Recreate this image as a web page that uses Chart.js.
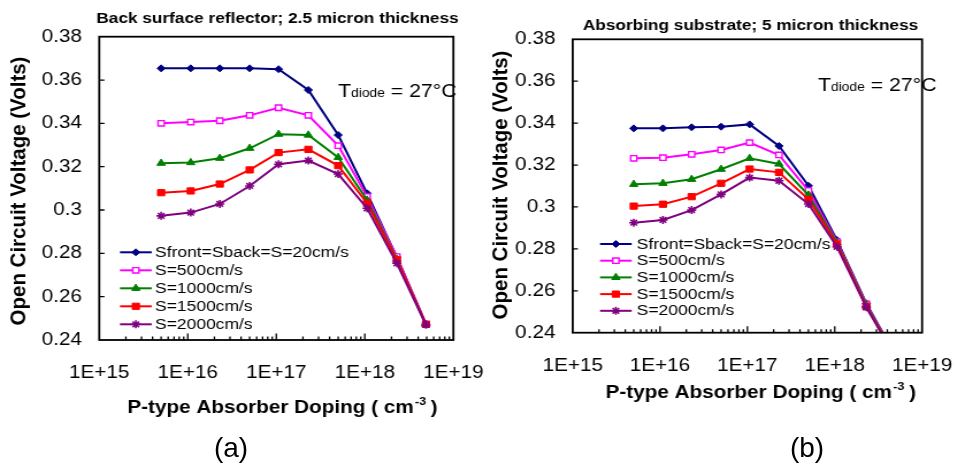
<!DOCTYPE html>
<html>
<head>
<meta charset="utf-8">
<script src="https://cdn.jsdelivr.net/npm/chart.js"></script>
<style>
  html, body { margin: 0; padding: 0; background: #fff; }
  body { width: 979px; height: 466px; position: relative; overflow: hidden; font-family: "Liberation Sans", Arial, sans-serif; }
  canvas { position: absolute; top: 0; transform-origin: 0 0; transform: scaleX(1.15); }
  #chartA { left: 0; }
  #chartB { left: 490px; }
  .panel-label { position: absolute; top: 431px; width: 100px; text-align: center; font-size: 28px; line-height: 34px; color: #000; }
</style>
</head>
<body>
<canvas id="chartA" width="443" height="466"></canvas>
<canvas id="chartB" width="425" height="466"></canvas>
<div class="panel-label" style="left: 181px;">(a)</div>
<div class="panel-label" style="left: 757px;">(b)</div>
<script>
// doping levels (cm^-3) of the simulated points
const doping = [5e15, 1.08e16, 2.3e16, 5e16, 1.06e17, 2.3e17, 5e17, 1.06e18, 2.3e18, 4.9e18];

const seriesLabels = ['Sfront=Sback=S=20cm/s', 'S=500cm/s', 'S=1000cm/s', 'S=1500cm/s', 'S=2000cm/s'];

// (a) back surface reflector, 2.5 micron
const vocA_S20   = [0.3654, 0.3654, 0.3654, 0.3654, 0.3650, 0.3554, 0.3346, 0.3077, 0.2782, 0.2474];
const vocA_S500  = [0.3400, 0.3406, 0.3412, 0.3437, 0.3472, 0.3437, 0.3297, 0.3062, 0.2785, 0.2474];
const vocA_S1000 = [0.3216, 0.3219, 0.3239, 0.3285, 0.3350, 0.3346, 0.3243, 0.3046, 0.2773, 0.2472];
const vocA_S1500 = [0.3080, 0.3088, 0.3120, 0.3185, 0.3265, 0.3280, 0.3205, 0.3031, 0.2770, 0.2472];
const vocA_S2000 = [0.2973, 0.2988, 0.3028, 0.3111, 0.3211, 0.3228, 0.3166, 0.3008, 0.2754, 0.2470];

// (b) absorbing substrate, 5 micron
const vocB_S20   = [0.3375, 0.3375, 0.3380, 0.3383, 0.3394, 0.3291, 0.3101, 0.2842, 0.2540, 0.2295];
const vocB_S500  = [0.3232, 0.3235, 0.3251, 0.3272, 0.3307, 0.3248, 0.3078, 0.2834, 0.2537, 0.2293];
const vocB_S1000 = [0.3108, 0.3113, 0.3132, 0.3180, 0.3232, 0.3205, 0.3057, 0.2829, 0.2532, 0.2290];
const vocB_S1500 = [0.3004, 0.3013, 0.3049, 0.3113, 0.3181, 0.3165, 0.3036, 0.2823, 0.2524, 0.2288];
const vocB_S2000 = [0.2925, 0.2938, 0.2985, 0.3060, 0.3140, 0.3125, 0.3014, 0.2810, 0.2521, 0.2285];

const decades = [1e15, 1e16, 1e17, 1e18, 1e19];
const xTickLabels = ['1E+15', '1E+16', '1E+17', '1E+18', '1E+19'];
const yTickValues = [0.24, 0.26, 0.28, 0.30, 0.32, 0.34, 0.36, 0.38];
const yTickLabels = ['0.24', '0.26', '0.28', '0.3', '0.32', '0.34', '0.36', '0.38'];

const seriesColors = ['#000080', '#ff00ff', '#008000', '#ff0000', '#800080'];
const seriesFills = ['#000080', '#ffffff', '#008000', '#ff0000', '#800080'];
const seriesMarkers = ['rectRot', 'rect', 'triangle', 'rect', 'star'];
const markerRadius = [3.5, 3.8, 4.2, 4.4, 4];
const markerBorder = [1, 1.4, 1, 1, 1.6];

const FONT = '"Liberation Sans", Arial, sans-serif';
Chart.defaults.font.family = FONT;
Chart.defaults.color = '#000';

// 1..9 x 10^n ticks, like an Excel log axis
const xTickValues = [];
decades.forEach((d, i) => {
  if (i === decades.length - 1) { xTickValues.push(d); return; }
  for (let m = 1; m <= 9; m++) xTickValues.push(m * d);
});

function decadeLabel(v) {
  const i = decades.findIndex(d => Math.abs(v / d - 1) < 1e-6);
  return i >= 0 ? xTickLabels[i] : '';
}

const panelDecor = {
  id: 'panelDecor',
  afterDatasetsDraw(chart, args, opts) {
    const ctx = chart.ctx;
    const area = chart.chartArea;
    const xs = chart.scales.x;
    const ys = chart.scales.y;
    ctx.save();

    // inward tick marks
    ctx.strokeStyle = '#000';
    ctx.lineWidth = 1.3;
    ctx.beginPath();
    xs.ticks.forEach(t => {
      if (t.value <= xs.min || t.value >= xs.max) return;
      const px = xs.getPixelForValue(t.value);
      const len = decadeLabel(t.value) ? 6.5 : 3.5;
      ctx.moveTo(px, area.bottom);
      ctx.lineTo(px, area.bottom - len);
    });
    ys.ticks.forEach(t => {
      if (t.value <= ys.min + 1e-9 || t.value >= ys.max - 1e-9) return;
      const py = ys.getPixelForValue(t.value);
      ctx.moveTo(area.left, py);
      ctx.lineTo(area.left + 4.5, py);
    });
    ctx.stroke();

    // frame
    ctx.lineWidth = 1.8;
    ctx.strokeRect(area.left, area.top, area.right - area.left, area.bottom - area.top);

    ctx.fillStyle = '#000';
    ctx.textBaseline = 'alphabetic';

    // chart title
    ctx.font = 'bold 15px ' + FONT;
    ctx.textAlign = 'center';
    ctx.fillText(opts.title, opts.titleX, opts.titleY);

    // x axis title with superscript
    const partA = 'P-type Absorber Doping ( cm';
    const sup = '-3';
    const partB = ' )';
    ctx.font = 'bold 18px ' + FONT;
    const wA = ctx.measureText(partA).width;
    const wB = ctx.measureText(partB).width;
    ctx.font = 'bold 11px ' + FONT;
    const wS = ctx.measureText(sup).width;
    let x0 = opts.xTitleX - (wA + wS + wB) / 2;
    ctx.textAlign = 'left';
    ctx.font = 'bold 18px ' + FONT;
    ctx.fillText(partA, x0, opts.xTitleY);
    ctx.font = 'bold 11px ' + FONT;
    ctx.fillText(sup, x0 + wA + 1, opts.xTitleY - 8);
    ctx.font = 'bold 18px ' + FONT;
    ctx.fillText(partB, x0 + wA + wS, opts.xTitleY);

    // y axis title (stretched along its length like the source figure)
    ctx.save();
    ctx.translate(opts.yTitleX, opts.yTitleY);
    ctx.rotate(-Math.PI / 2);
    ctx.scale(1.17, 1);
    ctx.textAlign = 'center';
    ctx.textBaseline = 'middle';
    ctx.font = 'bold 17.5px ' + FONT;
    ctx.fillText('Open Circuit Voltage (Volts)', 0, 0);
    ctx.restore();

    // T_diode note
    ctx.textAlign = 'left';
    let tx = opts.noteX;
    ctx.font = '18.5px ' + FONT;
    ctx.fillText('T', tx, opts.noteY);
    tx += ctx.measureText('T').width;
    ctx.font = '12px ' + FONT;
    ctx.fillText('diode', tx, opts.noteY);
    tx += ctx.measureText('diode').width;
    ctx.font = '18.5px ' + FONT;
    ctx.fillText(' = 27\u00B0C', tx, opts.noteY);

    // legend
    const lg = opts.legend;
    chart.data.datasets.forEach((ds, i) => {
      const y = lg.y + i * lg.gap;
      ctx.strokeStyle = ds.borderColor;
      ctx.lineWidth = 2;
      ctx.beginPath();
      ctx.moveTo(lg.x0, y);
      ctx.lineTo(lg.x1, y);
      ctx.stroke();
      ctx.fillStyle = ds.pointBackgroundColor;
      ctx.strokeStyle = ds.borderColor;
      ctx.lineWidth = ds.pointBorderWidth;
      Chart.helpers.drawPoint(ctx, {
        pointStyle: ds.pointStyle,
        radius: ds.pointRadius,
        borderWidth: ds.pointBorderWidth,
        rotation: 0
      }, (lg.x0 + lg.x1) / 2, y);
      ctx.fillStyle = '#000';
      ctx.font = '15.2px ' + FONT;
      ctx.textBaseline = 'middle';
      ctx.fillText(ds.label, lg.tx, y + 0.5);
    });

    ctx.restore();
  }
};

function buildChart(canvasId, series, panel) {
  const datasets = series.map((values, i) => ({
    label: seriesLabels[i],
    data: values.map((v, k) => ({ x: doping[k], y: v })),
    borderColor: seriesColors[i],
    backgroundColor: seriesFills[i],
    pointBackgroundColor: seriesFills[i],
    pointBorderColor: seriesColors[i],
    pointStyle: seriesMarkers[i],
    pointRadius: markerRadius[i],
    pointBorderWidth: markerBorder[i],
    borderWidth: 2,
    tension: 0,
    fill: false,
    order: series.length - i
  }));

  return new Chart(document.getElementById(canvasId), {
    type: 'line',
    data: { datasets: datasets },
    options: {
      responsive: false,
      animation: false,
      devicePixelRatio: 1,
      events: [],
      layout: { padding: panel.padding },
      scales: {
        x: {
          type: 'logarithmic',
          min: 1e15,
          max: 1e19,
          afterBuildTicks: s => { s.ticks = xTickValues.map(v => ({ value: v })); },
          afterFit: s => { s.height = 60; },
          grid: { display: false, drawTicks: false },
          border: { display: false },
          ticks: {
            autoSkip: false, maxRotation: 0, minRotation: 0, padding: panel.xLabelPad,
            color: '#000', font: { size: 18 },
            callback: v => decadeLabel(v)
          }
        },
        y: {
          min: 0.24,
          max: 0.38,
          afterBuildTicks: s => { s.ticks = yTickValues.map(v => ({ value: v })); },
          afterFit: s => { s.width = panel.yAxisWidth; },
          grid: { display: false, drawTicks: false },
          border: { display: false },
          ticks: {
            padding: 15, color: '#000', font: { size: 18 },
            callback: v => yTickLabels[yTickValues.findIndex(t => Math.abs(t - v) < 1e-9)]
          }
        }
      },
      plugins: {
        legend: { display: false },
        tooltip: { enabled: false },
        panelDecor: panel.decor
      }
    },
    plugins: [panelDecor]
  });
}

buildChart('chartA', [vocA_S20, vocA_S500, vocA_S1000, vocA_S1500, vocA_S2000], {
  padding: { left: 0, right: 40.7, top: 36.7, bottom: 66 },
  yAxisWidth: 86.3,
  xLabelPad: 22.5,
  decor: {
    title: 'Back surface reflector; 2.5 micron thickness', titleX: 241.3, titleY: 23,
    xTitleX: 245.6, xTitleY: 413,
    yTitleX: 17, yTitleY: 191,
    noteX: 294, noteY: 97,
    legend: { x0: 104.3, x1: 131.9, tx: 134.8, y: 252.3, gap: 18 }
  }
});

buildChart('chartB', [vocB_S20, vocB_S500, vocB_S1000, vocB_S1500, vocB_S2000], {
  padding: { left: 0, right: 31.3, top: 39.3, bottom: 73.3 },
  yAxisWidth: 71.9,
  xLabelPad: 23,
  decor: {
    title: 'Absorbing substrate; 5 micron thickness', titleX: 226.5, titleY: 30,
    xTitleX: 235.5, xTitleY: 398.3,
    yTitleX: 10, yTitleY: 185,
    noteX: 285.2, noteY: 90.7,
    legend: { x0: 95.7, x1: 123.2, tx: 127.6, y: 244, gap: 16.7 }
  }
});
</script>
</body>
</html>
